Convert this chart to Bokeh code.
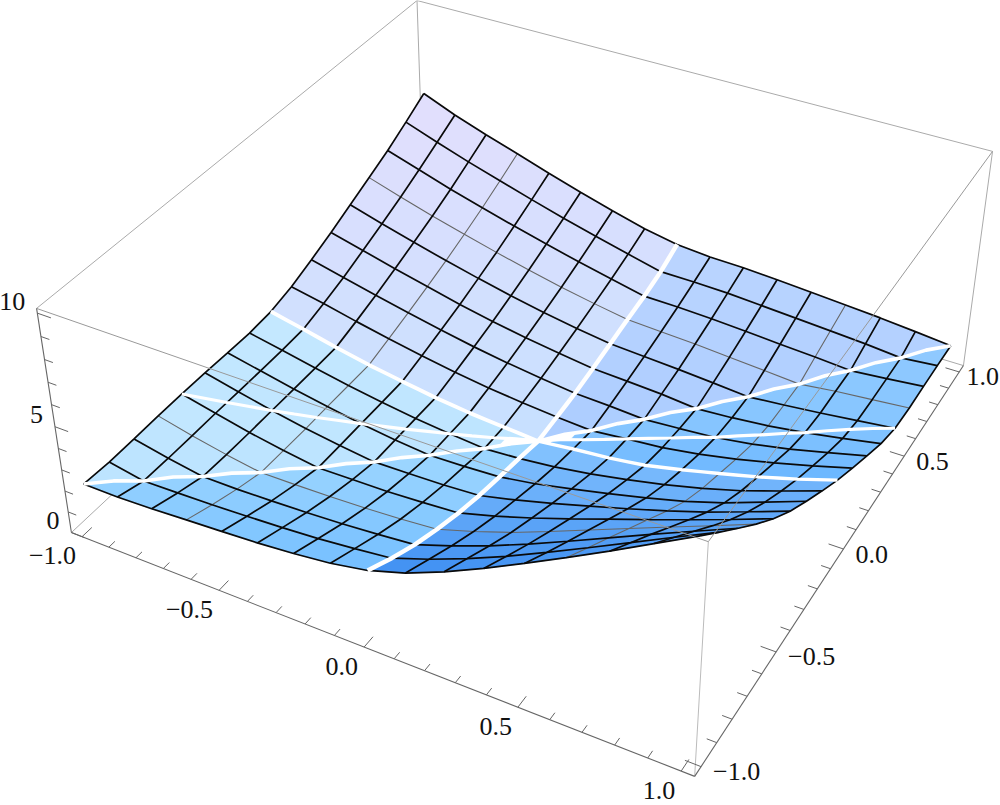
import numpy as np
from bokeh.plotting import figure
from bokeh.embed import file_html
from bokeh.resources import INLINE
from bokeh.models import Range1d
from bokeh.core.properties import value

# ---- data: surface height x100, rows from y=+1 down to y=-1, columns x=-1..+1
grid_step = 0.125
z_y_p1000 = [606,542,487,436,384,334,288,245,214,200,195,185,173,161,148,132,115]
z_y_p0875 = [543,487,434,385,337,291,248,207,168,166,161,150,139,128,116,100,116]
z_y_p0750 = [484,433,382,336,292,250,210,174,138,135,128,118,106,96,83,98,115]
z_y_p0625 = [433,383,335,292,250,211,175,144,116,107,99,87,75,62,82,97,112]
z_y_p0500 = [384,337,293,251,212,176,143,116,92,82,72,60,46,62,79,99,119]
z_y_p0375 = [335,294,253,214,176,143,114,90,68,60,51,35,47,64,89,119,152]
z_y_p0250 = [290,252,214,179,145,114,88,66,47,40,30,42,56,82,116,158,202]
z_y_p0125 = [249,217,180,147,116,88,65,47,33,23,40,56,83,118,159,205,254]
z_y_0000  = [221,186,149,116,89,64,45,32,20,40,55,79,117,159,203,253,309]
z_y_m0125 = [212,181,147,116,89,66,48,33,44,62,88,120,157,200,250,310,372]
z_y_m0250 = [214,180,146,116,89,67,50,55,64,91,127,166,207,252,307,372,438]
z_y_m0375 = [217,180,145,114,89,68,71,76,86,126,171,220,270,322,379,443,508]
z_y_m0500 = [217,180,144,115,90,93,96,105,116,163,217,276,337,398,460,524,590]
z_y_m0625 = [216,178,145,118,120,124,130,140,154,207,266,334,404,474,544,613,683]
z_y_m0750 = [212,178,150,150,155,162,171,184,199,258,322,394,471,550,629,706,782]
z_y_m0875 = [210,180,184,189,197,206,218,235,255,315,383,458,540,625,711,798,883]
z_y_m1000 = [217,217,223,233,242,252,267,287,319,373,444,525,612,702,794,890,985]
z_rows = [z_y_m1000,z_y_m0875,z_y_m0750,z_y_m0625,z_y_m0500,z_y_m0375,z_y_m0250,z_y_m0125,z_y_0000,
          z_y_p0125,z_y_p0250,z_y_p0375,z_y_p0500,z_y_p0625,z_y_p0750,z_y_p0875,z_y_p1000]
x_tick_labels = [-1.0,-0.5,0.0,0.5,1.0]
y_tick_labels = [-1.0,-0.5,0.0,0.5,1.0]
z_tick_labels = [0,5,10]
# wedges of the surface in counter-clockwise order, and their colours (far, near, screen v range)
ray_dirs = [(0,1),(-1,0),(-1,-.5),(-1,-1),(0,-1),(1,0),(1,.5),(1,1),(0,1)]
wedge_cols = [("#E3DFFD","#C6E0FF",93,440),("#C6E9FF","#BDE4FF",300,450),("#C6E9FF","#BDE4FF",390,450),("#A0D8FF","#72BDFF",450,572),
              ("#86C4FF","#4090F2",445,572),("#82C3FF","#6AB6FF",430,480),("#90CAFF","#84C4FF",345,440),("#BCD5FF","#ACCDFF",245,430)]

# ---- perspective view of the box
XB=1.04; Z1=10.2
view=[((-XB,-XB,Z1),(36,308)),((-XB,-XB,0),(71,532)),((-XB,XB,Z1),(416.5,0)),((XB,XB,Z1),(992,151)),((XB,XB,0),(963,365)),((XB,-XB,Z1),(708,541)),((XB,-XB,0),(694,776))]
A=[]
for (X,Y,Z),(u,v) in view:
    Zn=Z/5-1
    A.append([X,Y,Zn,1,0,0,0,0,-u*X,-u*Y,-u*Zn,-u]); A.append([0,0,0,0,X,Y,Zn,1,-v*X,-v*Y,-v*Zn,-v])
P=np.linalg.svd(np.array(A,float))[2][-1].reshape(3,4)
def proj(x,y,z):
    h=P@np.array([x,y,z/5-1,1.0]); return float(h[0]/h[2]),float(h[1]/h[2])
Zg=np.array(z_rows,float).T/100
n=Zg.shape[0]-1
gx=lambda k:-1+k*grid_step

def zf(x,y):
    fx=min((x+1)/grid_step,n-1e-4);fy=min((y+1)/grid_step,n-1e-4);a=int(fx);b=int(fy);s=fx-a;t=fy-b
    return Zg[a,b]*(1-s)*(1-t)+Zg[a+1,b]*s*(1-t)+Zg[a,b+1]*(1-s)*t+Zg[a+1,b+1]*s*t
def pxy(x,y): return proj(x,y,zf(x,y))
def hex2(c): return np.array([int(c[k:k+2],16) for k in (1,3,5)],float)
def colr(w,v):
    a,b,v0,v1=wedge_cols[w]; t=min(max((v-v0)/(v1-v0),0),1); c=hex2(a)*(1-t)+hex2(b)*t
    return "#%02x%02x%02x"%tuple(int(round(q)) for q in c)
def clip(poly,a,b):
    out=[]
    for k in range(len(poly)):
        p1=poly[k];p2=poly[(k+1)%len(poly)]
        d1=a*p1[0]+b*p1[1];d2=a*p2[0]+b*p2[1]
        if d1>=0: out.append(p1)
        if d1*d2<0:
            f=d1/(d1-d2);out.append((p1[0]+f*(p2[0]-p1[0]),p1[1]+f*(p2[1]-p1[1])))
    return out
cells=[]
for i in range(n):
    for j in range(n):
        x0=gx(i);y0=gx(j);x1=gx(i+1);y1=gx(j+1)
        for w in range(8):
            d1=ray_dirs[w];d2=ray_dirs[w+1]
            poly=[(x0,y0),(x1,y0),(x1,y1),(x0,y1)]
            c=d1[0]*d2[1]-d1[1]*d2[0]
            if c>0:
                poly=clip(poly,-d1[1],d1[0]); poly=clip(poly,d2[1],-d2[0]) if poly else poly
            else:
                poly=clip(poly,d1[1],-d1[0]); poly=clip(poly,-d2[1],d2[0]) if poly else poly
            if len(poly)<3: continue
            sc=[pxy(*q) for q in poly]
            cx=np.mean([q[0] for q in poly]);cy=np.mean([q[1] for q in poly])
            vm=np.mean([q[1] for q in sc])
            cells.append((cx-cy,[q[0] for q in sc],[q[1] for q in sc],colr(w,vm)))
cells.sort(key=lambda c:c[0])

p=figure(width=1000,height=805,x_range=Range1d(0,1000),y_range=Range1d(805,0),output_backend="svg",toolbar_location=None,min_border=0,outline_line_color=None)
p.axis.visible=False; p.grid.visible=False
def seg(a,b):
    u1,v1=proj(*a);u2,v2=proj(*b); return [u1,u2],[v1,v2]
def lines(segs,color,width):
    p.multi_line([s[0] for s in segs],[s[1] for s in segs],line_color=color,line_width=width)
B=XB
lines([seg((-B,-B,Z1),(-B,B,Z1)),seg((-B,B,Z1),(B,B,Z1)),seg((-B,B,Z1),(-B,B,0)),seg((B,B,Z1),(B,B,0)),seg((-B,-B,0),(-B,B,0)),seg((B,B,0),(-B,B,0))],"#aaaaaa",1)
lines([seg((B,-B,Z1),(B,-B,0))],"#bbbbbb",1)
p.patches([c[1] for c in cells],[c[2] for c in cells],fill_color=[c[3] for c in cells],line_color=[c[3] for c in cells],line_width=0.6)
def mesh(idx,color,width):
    xs=[];ys=[]
    for k in idx:
        a=[proj(gx(k),gx(m),Zg[k,m]) for m in range(n+1)]
        xs.append([q[0] for q in a]);ys.append([q[1] for q in a])
        a=[proj(gx(m),gx(k),Zg[m,k]) for m in range(n+1)]
        xs.append([q[0] for q in a]);ys.append([q[1] for q in a])
    p.multi_line(xs,ys,line_color=color,line_width=width)
mesh([3,13],"#666666",1.1)
mesh([0,1,2,4,5,6,7,9,10,11,12,14,15,16],"#0a0a0a",1.7)
def ray_line(d,w):
    ts=np.linspace(0,1,n+1)
    a=[pxy(d[0]*t,d[1]*t) for t in ts]
    p.line([q[0] for q in a],[q[1] for q in a],line_color="white",line_width=w)
for d,w in [((0,1),4.4),((0,-1),4.4),((-1,0),3.8),((1,0),3.4),((-1,-.5),3.2),((1,.5),3.2),((-1,-1),3.6),((1,1),3.6)]:
    ray_line(d,w)
tri=[[(0,0),(-.09,-.045),(-.09,-.09)],[(0,0),(.09,.045),(.09,.09)],[(0,0),(-.04,0),(-.04,-.02)],[(0,0),(.04,0),(.04,.02)]]
p.patches([[pxy(*q)[0] for q in t] for t in tri],[[pxy(*q)[1] for q in t] for t in tri],fill_color="white",line_color="white",line_width=1)
lines([seg((-B,-B,Z1),(B,-B,Z1)),seg((B,-B,Z1),(B,B,Z1))],"#999999",1)
lines([seg((-B,-B,Z1),(-B,-B,0)),seg((-B,-B,0),(B,-B,0)),seg((B,-B,0),(B,B,0))],"#666666",1.1)
ticks=[]
for k in range(-10,11):
    v=k/10; L=.048 if k%5==0 else .03
    ticks.append(seg((v,-B,0),(v,-B+L,0))); ticks.append(seg((B,v,0),(B-L,v,0)))
for k in range(0,11):
    L=.048 if k%5==0 else .03
    ticks.append(seg((-B,-B,k),(-B+L,-B,k)))
lines(ticks,"#666666",1)
fmt=lambda v:("\u2212" if v<0 else "")+f"{abs(v):.1f}"
font=dict(text_font=value("Liberation Serif"),text_font_size="26px",text_color="#111111")
a=[proj(v,-B,0) for v in x_tick_labels]
p.text([q[0]-6 for q in a],[q[1]+19 for q in a],text=[fmt(v) for v in x_tick_labels],text_align="right",text_baseline="middle",**font)
a=[proj(B,v,0) for v in y_tick_labels]
p.text([min(q[0]+12,966) for q in a],[q[1]+5 for q in a],text=[fmt(v) for v in y_tick_labels],text_align="left",text_baseline="middle",**font)
a=[proj(-B,-B,v) for v in z_tick_labels]
p.text([q[0]-12 for q in a],[q[1]-12 for q in a],text=[str(v) for v in z_tick_labels],text_align="right",text_baseline="middle",**font)
open("out.html","w").write(file_html(p,INLINE))
